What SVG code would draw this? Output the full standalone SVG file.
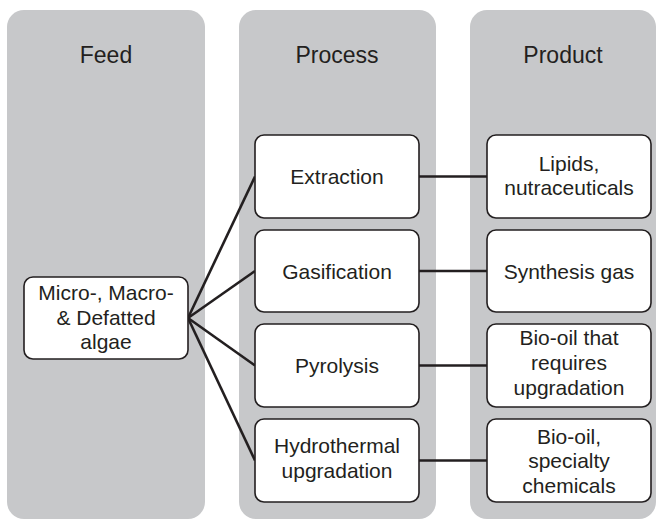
<svg xmlns="http://www.w3.org/2000/svg" width="660" height="520" viewBox="0 0 660 520">
<style>
.panel{fill:#c7c8ca;}
.node{fill:#ffffff;stroke:#231f20;stroke-width:1.6;}
.title{font-family:"Liberation Sans",Arial,sans-serif;font-size:23px;fill:#231f20;text-anchor:middle;}
.lbl{font-family:"Liberation Sans",Arial,sans-serif;font-size:21px;fill:#231f20;text-anchor:middle;}
.conn{stroke:#231f20;stroke-width:2.6;fill:none;stroke-linecap:butt;}
</style>
<rect width="660" height="520" fill="#ffffff"/>
<g id="panels">
<rect class="panel" x="7" y="10" width="198" height="509" rx="17"/>
<rect class="panel" x="239" y="10" width="197" height="509" rx="17"/>
<rect class="panel" x="470" y="10" width="186" height="509" rx="17"/>
<text class="title" x="106" y="63">Feed</text>
<text class="title" x="337" y="63">Process</text>
<text class="title" x="563" y="63">Product</text>
</g>
<g id="connectors">
<line class="conn" x1="188" y1="318" x2="255" y2="176.5"/>
<line class="conn" x1="188" y1="318" x2="255" y2="271"/>
<line class="conn" x1="188" y1="318" x2="255" y2="365.5"/>
<line class="conn" x1="188" y1="318" x2="255" y2="460.5"/>
<line class="conn" x1="419" y1="176.5" x2="487" y2="176.5"/>
<line class="conn" x1="419" y1="271" x2="487" y2="271"/>
<line class="conn" x1="419" y1="365.5" x2="487" y2="365.5"/>
<line class="conn" x1="419" y1="460.5" x2="487" y2="460.5"/>
</g>
<g id="feed">
<rect class="node" x="24" y="277" width="164" height="82" rx="9"/>
<text class="lbl" x="106" y="300">Micro-, Macro-</text>
<text class="lbl" x="106" y="324.5">&amp; Defatted</text>
<text class="lbl" x="106" y="349">algae</text>
</g>
<g id="extraction">
<rect class="node" x="255" y="135" width="164" height="83" rx="9"/>
<text class="lbl" x="337" y="184">Extraction</text>
</g>
<g id="gasification">
<rect class="node" x="255" y="230" width="164" height="82" rx="9"/>
<text class="lbl" x="337" y="278.5">Gasification</text>
</g>
<g id="pyrolysis">
<rect class="node" x="255" y="324" width="164" height="83" rx="9"/>
<text class="lbl" x="337" y="373">Pyrolysis</text>
</g>
<g id="hydrothermal">
<rect class="node" x="255" y="419" width="164" height="83" rx="9"/>
<text class="lbl" x="337" y="453">Hydrothermal</text>
<text class="lbl" x="337" y="478">upgradation</text>
</g>
<g id="lipids">
<rect class="node" x="487" y="135" width="164" height="83" rx="9"/>
<text class="lbl" x="569" y="171">Lipids,</text>
<text class="lbl" x="569" y="195">nutraceuticals</text>
</g>
<g id="syngas">
<rect class="node" x="487" y="230" width="164" height="82" rx="9"/>
<text class="lbl" x="569" y="278.5">Synthesis gas</text>
</g>
<g id="biooil">
<rect class="node" x="487" y="324" width="164" height="83" rx="9"/>
<text class="lbl" x="569" y="345">Bio-oil that</text>
<text class="lbl" x="569" y="370">requires</text>
<text class="lbl" x="569" y="395">upgradation</text>
</g>
<g id="specialty">
<rect class="node" x="487" y="419" width="164" height="83" rx="9"/>
<text class="lbl" x="569" y="443.5">Bio-oil,</text>
<text class="lbl" x="569" y="468">specialty</text>
<text class="lbl" x="569" y="493">chemicals</text>
</g>
</svg>
